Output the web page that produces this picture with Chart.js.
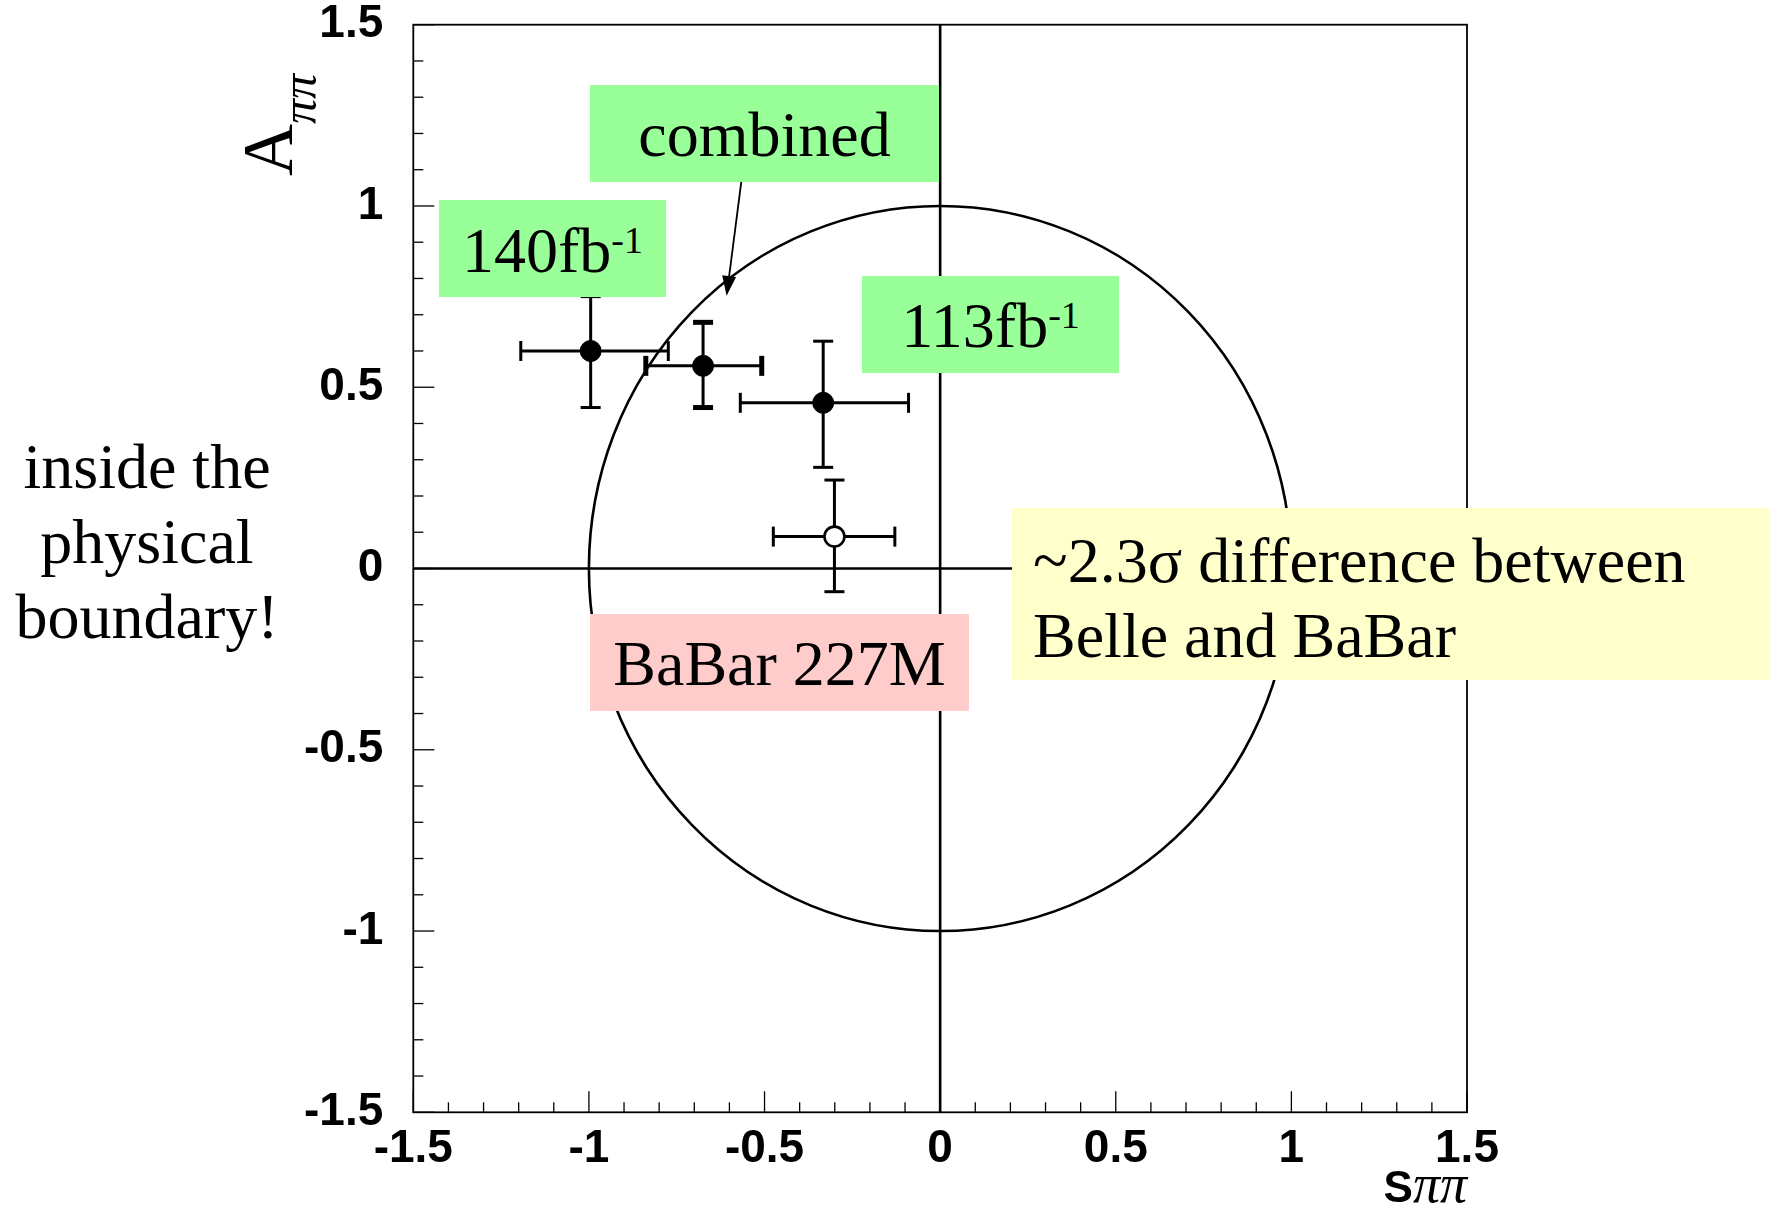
<!DOCTYPE html>
<html>
<head>
<meta charset="utf-8">
<title>S&pi;&pi; versus A&pi;&pi;</title>
<script src="https://cdn.jsdelivr.net/npm/chart.js@4.4.1/dist/chart.umd.min.js"></script>
<style>
  html, body { margin: 0; padding: 0; background: #fff; }
  #stage { position: relative; width: 1769px; height: 1207px; overflow: hidden; }
  #stage canvas { position: absolute; left: 0; top: 0; }
  .serif { font-family: "Liberation Serif", "Times New Roman", serif; font-size: 64px; color: #000; white-space: nowrap; }
  .box { position: absolute; }
  .green { background: #99ff99; }
  .pink { background: #ffcccc; }
  .yellow { background: #ffffcc; }
  .t { position: absolute; line-height: 75px; }
  .t.c { left: 0; right: 0; text-align: center; }
  .t sup { font-size: 38px; line-height: 1; vertical-align: baseline; position: relative; top: -19px; }
  #note { position: absolute; left: 0; width: 294px; text-align: center; line-height: 75px; }
  #ytitle { position: absolute; font-family: "Liberation Serif", "Times New Roman", serif; font-size: 72px;
            line-height: 80px; white-space: nowrap; transform-origin: 0 0; transform: rotate(-90deg); }
  #ytitle .sub { font-style: italic; font-size: 50px; position: relative; top: 24px; }
  #xtitle { position: absolute; right: 302px; font-family: "Liberation Sans", Arial, sans-serif; font-weight: bold;
            font-size: 44px; line-height: 60px; white-space: nowrap; }
  #xtitle .pi { font-family: "Liberation Serif", "Times New Roman", serif; font-weight: normal; font-style: italic; font-size: 54px; }
</style>
</head>
<body>
<div id="stage">
  <canvas id="chart" width="1769" height="1207"></canvas>

  <div class="box green" style="left:590px;top:85px;width:349px;height:97px">
    <div class="t c serif" data-base="71">combined</div>
  </div>
  <div class="box green" style="left:439px;top:200px;width:227px;height:97px">
    <div class="t c serif" data-base="72">140fb<sup>-1</sup></div>
  </div>
  <div class="box green" style="left:862px;top:276px;width:257px;height:97px">
    <div class="t c serif" data-base="71">113fb<sup>-1</sup></div>
  </div>
  <div class="box pink" style="left:590px;top:614px;width:379px;height:97px">
    <div class="t c serif" data-base="71">BaBar 227M</div>
  </div>
  <div class="box yellow" style="left:1012px;top:508px;width:757px;height:172px">
    <div class="t serif" style="left:21px" data-base="74">~2.3σ difference between<br>Belle and BaBar</div>
  </div>

  <div id="note" class="serif" data-base="488">inside the<br>physical<br>boundary!</div>
  <div id="ytitle">A<span class="sub">ππ</span></div>
  <div id="xtitle" data-base="1202">S<span class="pi">ππ</span></div>
</div>

<script>
// measurements, one entry per series
const seriesNames = ["140fb-1", "combined", "113fb-1", "BaBar 227M"]
const sValues = [-0.995, -0.675, -0.333, -0.301]
const aValues = [0.600, 0.559, 0.457, 0.088]
const sErrLow = [0.199, 0.163, 0.236, 0.174]
const sErrHigh = [0.221, 0.167, 0.243, 0.172]
const aErrLow = [0.156, 0.115, 0.178, 0.152]
const aErrHigh = [0.150, 0.120, 0.170, 0.156]

// axes
const axisTicks = [-1.5, -1, -0.5, 0, 0.5, 1, 1.5]
const minorStep = 0.1
const boundaryRadius = 1

// "combined" arrow, in data units
const arrowFrom = [-0.564, 1.083]
const arrowTo = [-0.608, 0.752]

const tickFont = { family: "'Liberation Sans', Arial, sans-serif", weight: "bold", size: 46, lineHeight: 1 }

function strokeLine(ctx, x1, y1, x2, y2) {
  ctx.beginPath()
  ctx.moveTo(x1, y1)
  ctx.lineTo(x2, y2)
  ctx.stroke()
}

const physicsPlot = {
  id: "physicsPlot",

  beforeDatasetsDraw(chart) {
    const { ctx, chartArea: area, scales: { x, y } } = chart
    ctx.save()
    ctx.strokeStyle = "#000"
    ctx.fillStyle = "#000"

    // physical boundary S^2 + A^2 = 1
    const cx = x.getPixelForValue(0)
    const cy = y.getPixelForValue(0)
    const rx = x.getPixelForValue(boundaryRadius) - cx
    const ry = cy - y.getPixelForValue(boundaryRadius)
    ctx.lineWidth = 2.6
    ctx.beginPath()
    ctx.ellipse(cx, cy, rx, ry, 0, 0, Math.PI * 2)
    ctx.stroke()

    // zero lines
    ctx.lineWidth = 2.6
    strokeLine(ctx, area.left, cy, area.right, cy)
    strokeLine(ctx, cx, area.top, cx, area.bottom)

    // arrow to the combined point
    const ax1 = x.getPixelForValue(arrowFrom[0]), ay1 = y.getPixelForValue(arrowFrom[1])
    const ax2 = x.getPixelForValue(arrowTo[0]), ay2 = y.getPixelForValue(arrowTo[1])
    const ang = Math.atan2(ay2 - ay1, ax2 - ax1)
    const head = 20, half = 7
    const bx = ax2 - head * Math.cos(ang), by = ay2 - head * Math.sin(ang)
    ctx.lineWidth = 1.8
    strokeLine(ctx, ax1, ay1, bx, by)
    ctx.beginPath()
    ctx.moveTo(ax2, ay2)
    ctx.lineTo(bx + half * Math.sin(ang), by - half * Math.cos(ang))
    ctx.lineTo(bx - half * Math.sin(ang), by + half * Math.cos(ang))
    ctx.closePath()
    ctx.fill()

    // error bars
    chart.data.datasets.forEach(ds => {
      ds.data.forEach(p => {
        const px = x.getPixelForValue(p.x), py = y.getPixelForValue(p.y)
        const left = x.getPixelForValue(p.x - p.sLo), right = x.getPixelForValue(p.x + p.sHi)
        const top = y.getPixelForValue(p.y + p.aHi), bottom = y.getPixelForValue(p.y - p.aLo)
        ctx.lineWidth = 3
        strokeLine(ctx, left, py, right, py)
        strokeLine(ctx, px, top, px, bottom)
        ctx.lineWidth = ds.capWidth
        strokeLine(ctx, left, py - 10, left, py + 10)
        strokeLine(ctx, right, py - 10, right, py + 10)
        strokeLine(ctx, px - 10, top, px + 10, top)
        strokeLine(ctx, px - 10, bottom, px + 10, bottom)
      })
    })
    ctx.restore()
  },

  afterDraw(chart) {
    const { ctx, chartArea: area, scales: { x, y } } = chart
    ctx.save()
    ctx.strokeStyle = "#000"
    ctx.lineWidth = 1.8
    ctx.strokeRect(area.left, area.top, area.right - area.left, area.bottom - area.top)

    // inward ticks on the left and bottom edges
    ctx.lineWidth = 1.3
    const steps = Math.round((x.max - x.min) / minorStep)
    for (let i = 0; i <= steps; i++) {
      const v = x.min + i * minorStep
      const major = axisTicks.some(t => Math.abs(t - v) < 1e-6)
      const len = major ? 21 : 10
      const px = x.getPixelForValue(v)
      strokeLine(ctx, px, area.bottom, px, area.bottom - len)
    }
    const ySteps = Math.round((y.max - y.min) / minorStep)
    for (let i = 0; i <= ySteps; i++) {
      const v = y.min + i * minorStep
      const major = axisTicks.some(t => Math.abs(t - v) < 1e-6)
      const len = major ? 21 : 10
      const py = y.getPixelForValue(v)
      strokeLine(ctx, area.left, py, area.left + len, py)
    }
    ctx.restore()
  }
}

const datasets = seriesNames.map((name, i) => {
  const open = name.startsWith("BaBar")
  return {
    label: name,
    data: [{ x: sValues[i], y: aValues[i], sLo: sErrLow[i], sHi: sErrHigh[i], aLo: aErrLow[i], aHi: aErrHigh[i] }],
    pointRadius: open ? 10 : 10.5,
    pointBackgroundColor: open ? "#fff" : "#000",
    pointBorderColor: "#000",
    pointBorderWidth: open ? 2.6 : 1,
    capWidth: name === "combined" ? 5 : 3
  }
})

function axisOptions(extra) {
  return Object.assign({
    type: "linear",
    min: -1.5,
    max: 1.5,
    grid: { display: false, drawTicks: false },
    border: { display: false },
    ticks: { font: tickFont, color: "#000", autoSkip: false, maxRotation: 0, callback: v => String(v) },
    afterBuildTicks: scale => { scale.ticks = axisTicks.map(v => ({ value: v })) }
  }, extra)
}

// fixed axis sizes; label overhang must not push the plot frame
const xAxis = axisOptions({
  afterFit: scale => {
    scale.height = 94.7
    scale.paddingLeft = 0
    scale.paddingRight = 0
  }
})
xAxis.ticks.padding = 14
const yAxis = axisOptions({
  afterFit: scale => {
    scale.width = 413.3
    scale.paddingTop = 0
    scale.paddingBottom = 0
  }
})
yAxis.ticks = Object.assign({}, yAxis.ticks, { padding: 30 })

new Chart(document.getElementById("chart"), {
  type: "scatter",
  data: { datasets },
  options: {
    responsive: false,
    animation: false,
    devicePixelRatio: 1,
    events: [],
    layout: { padding: { left: 0, right: 302, top: 24.7, bottom: 0 } },
    plugins: { legend: { display: false }, tooltip: { enabled: false } },
    scales: { x: xAxis, y: yAxis }
  },
  plugins: [physicsPlot]
})

// put each text block's first baseline where it sits in the picture
function baselineOffset(el) {
  const probe = document.createElement("span")
  probe.style.cssText = "display:inline-block;width:0;height:0"
  el.insertBefore(probe, el.firstChild)
  const off = probe.offsetTop
  el.removeChild(probe)
  return off
}

document.querySelectorAll("[data-base]").forEach(el => {
  el.style.top = (Number(el.dataset.base) - baselineOffset(el)) + "px"
})

const ytitle = document.getElementById("ytitle")
ytitle.style.top = "176px"
ytitle.style.left = (292 - baselineOffset(ytitle)) + "px"
</script>
</body>
</html>
